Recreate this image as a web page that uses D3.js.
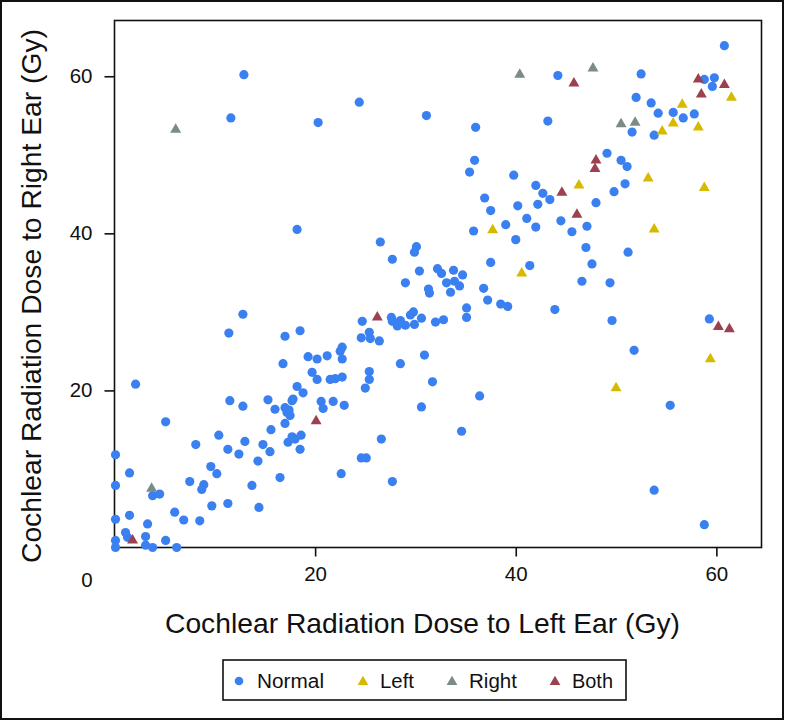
<!DOCTYPE html>
<html>
<head>
<meta charset="utf-8">
<script src="https://cdn.jsdelivr.net/npm/d3@7"></script>
<style>
  html, body { margin: 0; padding: 0; background: #fff; }
  svg text { font-family: "Liberation Sans", Arial, sans-serif; fill: #111; }
</style>
</head>
<body>
<svg id="chart" width="786" height="721"></svg>
<script>
// ---- data (Gy) : [left ear dose, right ear dose] ----
const normalPts = [
  [12.9,60.2],[11.6,54.7],[20.3,54.1],[18.2,40.5],
  [24.4,56.7],[31.1,55.0],[36.0,53.5],[35.9,49.3],[35.4,47.8],[39.8,47.4],[42.0,46.1],[36.9,44.5],
  [37.5,42.9],[40.2,43.5],[42.2,43.7],[39.0,41.1],[41.1,41.9],[42.0,40.8],[35.8,40.3],[40.0,39.2],
  [26.5,38.9],[30.1,38.3],[29.9,37.6],[27.7,36.7],[37.5,36.3],[41.4,35.9],[30.4,35.2],[32.2,35.5],
  [32.6,34.9],[33.8,35.3],[34.7,34.7],
  [29.0,33.7],[33.1,33.7],[33.9,33.9],[34.4,33.3],[31.3,32.9],[31.4,32.4],[33.5,32.5],[36.8,33.0],
  [37.2,31.5],[38.5,31.0],[39.2,30.7],[35.1,30.5],[35.1,29.3],[24.7,28.8],
  [27.6,29.3],[27.7,28.8],[28.5,28.9],[28.2,28.2],[29.0,28.3],[29.5,29.6],[29.8,30.0],[29.9,28.4],
  [30.6,29.2],[32.0,28.7],[32.8,29.0],
  [24.6,26.7],[25.4,27.4],[25.5,26.6],[26.4,26.3],[22.7,25.5],[22.5,25.0],[22.7,24.0],[21.2,24.4],
  [20.2,24.0],[19.7,22.3],[20.2,21.4],[21.5,21.4],[22.0,21.5],[22.7,21.7],[25.4,22.4],[25.4,21.4],
  [25.0,20.3],[28.5,23.4],[30.9,24.5],[31.7,21.1],[30.6,17.9],[36.4,19.3],[34.6,14.8],[20.6,18.6],
  [20.8,17.7],[21.8,18.6],[22.9,18.1],[26.6,13.8],[24.6,11.4],[25.1,11.4],[22.6,9.4],[27.7,8.4],
  [12.8,29.7],[11.4,27.3],[17.0,26.9],[18.5,27.6],[19.3,24.3],[16.8,23.4],[2.1,20.8],[18.2,20.5],
  [18.8,19.7],[17.8,18.9],[17.7,18.7],[11.5,18.7],[12.8,18.0],[15.3,18.8],[16.0,17.6],[17.0,17.8],
  [17.4,17.5],[17.5,16.8],[17.2,17.2],[17.0,15.8],[5.1,16.0],[15.6,15.0],[17.7,14.1],[18.6,14.3],
  [17.3,13.4],[18.0,13.8],[18.5,12.5],[10.4,14.3],[8.1,13.1],[13.0,13.5],[14.8,13.1],[11.3,12.5],
  [12.4,11.9],[15.5,12.2],[14.3,11.0],[0.1,11.8],[1.5,9.5],[9.6,10.3],[10.2,9.4],[7.5,8.4],
  [8.9,8.0],[8.7,7.4],[13.7,7.9],[16.5,8.9],[0.1,7.9],[3.8,6.6],[4.5,6.8],[9.7,5.3],[11.3,5.6],
  [14.4,5.1],[6.0,4.5],[6.9,3.5],[8.5,3.4],[0.1,3.6],[1.5,4.1],[3.3,3.0],[1.1,1.9],[1.3,1.3],
  [3.1,1.4],[3.1,0.3],[3.8,0.0],[5.1,0.9],[6.2,0.0],[0.1,0.9],[0.1,0.0],
  [60.8,63.9],[44.2,60.1],[52.5,60.3],[58.8,59.6],[59.8,59.8],[59.6,58.7],[52.0,57.3],[53.5,56.6],
  [54.2,55.3],[55.7,55.4],[56.7,54.7],[57.8,55.2],[43.2,54.3],[51.6,52.9],[53.8,52.5],[49.1,50.2],
  [50.5,49.3],[51.1,48.5],[50.9,46.3],[49.8,45.3],[48.0,43.9],[42.7,45.1],[43.4,44.3],[44.5,41.6],
  [45.6,40.2],[47.1,40.9],[47.0,38.2],[51.2,37.6],[47.6,36.1],[46.6,33.9],[49.4,33.7],
  [43.9,30.3],[49.6,28.9],[59.3,29.1],[51.8,25.1],[55.4,18.1],[53.8,7.3],[58.8,2.9]
];
const leftPts = [
  [37.7,40.4],[40.6,34.9],[56.6,56.4],[55.7,54.0],[54.6,53.0],[58.2,53.5],[61.5,57.3],
  [46.3,46.1],[53.2,47.0],[58.8,45.8],[53.8,40.5],[59.4,24.0],[50.0,20.3]
];
const rightPts = [
  [6.1,53.2],[40.4,60.2],[47.7,61.0],[50.5,53.9],[51.9,54.1],[3.7,7.5]
];
const bothPts = [
  [26.2,29.3],[20.1,16.1],[1.8,0.9],[45.8,59.1],[58.2,59.6],[60.8,58.9],[58.5,57.7],
  [48.0,49.3],[47.9,48.2],[44.6,45.2],[46.1,42.4],[60.2,28.1],[61.3,27.8]
];
const seriesNames = ["Normal", "Left", "Right", "Both"];
const seriesColors = ["#3a80f0", "#d6ba00", "#7b8b8a", "#9c4150"];
const xTicks = [20, 40, 60];
const yTicks = [20, 40, 60];
const xTitle = "Cochlear Radiation Dose to Left Ear (Gy)";
const yTitle = "Cochlear Radiation Dose to Right Ear (Gy)";

// ---- layout ----
const svg = d3.select("#chart");
const plot = { left: 114.5, right: 761.5, top: 20.5, bottom: 547.5 };
const x = d3.scaleLinear().domain([0, 64.5]).range([plot.left, plot.right]);
const y = d3.scaleLinear().domain([0, 67.1]).range([plot.bottom, plot.top]);

// outer border
svg.append("rect").attr("x", 1).attr("y", 1).attr("width", 782).attr("height", 718)
  .attr("fill", "none").attr("stroke", "#111").attr("stroke-width", 2);

// plot frame
svg.append("rect").attr("x", plot.left).attr("y", plot.top)
  .attr("width", plot.right - plot.left).attr("height", plot.bottom - plot.top)
  .attr("fill", "none").attr("stroke", "#111").attr("stroke-width", 1.6);

// axes
const xAxis = svg.append("g").attr("transform", `translate(0,${plot.bottom})`)
  .call(d3.axisBottom(x).tickValues(xTicks).tickSize(9).tickPadding(10));
const yAxis = svg.append("g").attr("transform", `translate(${plot.left},0)`)
  .call(d3.axisLeft(y).tickValues(yTicks).tickSize(10).tickPadding(12));
[xAxis, yAxis].forEach(g => {
  g.select(".domain").remove();
  g.selectAll(".tick line").attr("stroke", "#111").attr("stroke-width", 1.6);
  g.selectAll(".tick text").attr("font-size", 20.5).attr("fill", "#111")
    .style("font-family", '"Liberation Sans", Arial, sans-serif');
});
// shared origin label
svg.append("text").attr("x", 87).attr("y", 587).attr("text-anchor", "middle")
  .attr("font-size", 20.5).text("0");

// titles
svg.append("text").attr("x", 422.5).attr("y", 633).attr("text-anchor", "middle")
  .attr("font-size", 28).attr("textLength", 515).attr("lengthAdjust", "spacingAndGlyphs")
  .text(xTitle);
svg.append("text").attr("transform", "translate(41,296) rotate(-90)").attr("text-anchor", "middle")
  .attr("font-size", 28).attr("textLength", 534).attr("lengthAdjust", "spacingAndGlyphs")
  .text(yTitle);

// points
const clip = svg.append("g");
clip.selectAll("circle.normal").data(normalPts).join("circle")
  .attr("class", "normal")
  .attr("cx", d => x(d[0])).attr("cy", d => y(d[1])).attr("r", 4.6)
  .attr("fill", seriesColors[0]);
const tri = d3.symbol().type(d3.symbolTriangle).size(52);
[[leftPts, 1], [rightPts, 2], [bothPts, 3]].forEach(([pts, i]) => {
  clip.selectAll(`path.s${i}`).data(pts).join("path")
    .attr("class", `s${i}`)
    .attr("transform", d => `translate(${x(d[0])},${y(d[1])})`)
    .attr("d", tri).attr("fill", seriesColors[i]);
});

// legend
const lg = svg.append("g");
lg.append("rect").attr("x", 223).attr("y", 660).attr("width", 403).attr("height", 40)
  .attr("fill", "#fff").attr("stroke", "#111").attr("stroke-width", 1.6);
const legendSymX = [239, 363, 452, 555];
const legendTextX = [257, 380, 469, 572];
const legendTextW = [67, 34, 48, 41];
seriesNames.forEach((name, i) => {
  if (i === 0) {
    lg.append("circle").attr("cx", legendSymX[i]).attr("cy", 681).attr("r", 4.3)
      .attr("fill", seriesColors[i]);
  } else {
    lg.append("path").attr("transform", `translate(${legendSymX[i]},682)`)
      .attr("d", d3.symbol().type(d3.symbolTriangle).size(50)).attr("fill", seriesColors[i]);
  }
  lg.append("text").attr("x", legendTextX[i]).attr("y", 688).attr("font-size", 20)
    .attr("textLength", legendTextW[i]).attr("lengthAdjust", "spacingAndGlyphs").text(name);
});
</script>
</body>
</html>
